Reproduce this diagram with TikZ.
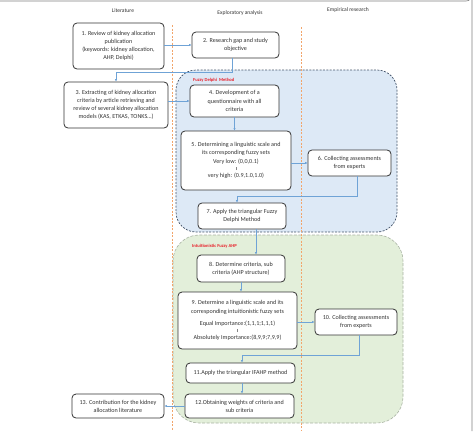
\documentclass[tikz,border=0pt]{standalone}
\usepackage{fontspec}
\setmainfont{Carlito}
\usepackage{tikz}
\usetikzlibrary{arrows.meta,calc}
\definecolor{ink}{HTML}{333333}
\definecolor{rim}{HTML}{7F7F7F}
\definecolor{wire}{HTML}{6FA3D6}
\definecolor{lane}{HTML}{F2A56B}
\definecolor{skyFill}{HTML}{DDE9F6}
\definecolor{skyRim}{HTML}{44546A}
\definecolor{sageFill}{HTML}{E3EFDA}
\definecolor{sageRim}{HTML}{A9B3A3}
\definecolor{alert}{HTML}{E8202A}
\newcommand{\dotbar}{{\color{ink!60}\rule{0.35pt}{3.6pt}}}
\tikzset{>=Latex,
  box/.style={draw=ink,fill=white,line width=0.8pt,rounded corners=4pt,align=center,
    inner sep=1pt,font=\fontsize{6.1}{8.1}\selectfont,text=ink},
  link/.style={draw=wire,line width=0.5pt,-{Latex[length=2.4pt,width=2.2pt]}},
  lanes/.style={draw=lane,line width=0.5pt,dash pattern=on 2pt off 1.5pt},
  skyzone/.style={draw=skyRim,fill=skyFill,line width=0.7pt,dash pattern=on 2pt off 1.4pt,rounded corners=20pt},
  sagezone/.style={draw=sageRim,fill=sageFill,line width=0.6pt,dash pattern=on 3pt off 1.5pt,rounded corners=26pt},
  tag/.style={font=\fontsize{4.6}{5}\selectfont\bfseries,text=alert,inner sep=0pt,anchor=west},
  head/.style={font=\fontsize{5.6}{6}\selectfont,text=ink,inner sep=0pt}}

\begin{document}
\begin{tikzpicture}[x=1pt,y=-1pt]
  \useasboundingbox (0,0) rectangle (473,431);
  \draw[rim,line width=0.6pt] (-2,1) -- (466,1) arc[start angle=90,end angle=0,radius=6] -- (472,431);
  % method zones
  \draw[skyzone] (176,70) rectangle (397,232);
  \draw[sagezone] (173,235) rectangle (403,423);
  \node[tag] (fdm) at (193,80) {Fuzzy Delphi\ \ Method};
  \node[tag] (ifahp) at (192,246) {Intuitionistic Fuzzy AHP};
  % column headings and lanes
  \node[head] (lit) at (123,11) {Literature};
  \node[head] (exp) at (240,13) {Exploratory analysis};
  \node[head] (emp) at (348,10) {Empirical research};
  \draw[lanes] (172,25) -- (172,431);
  \draw[lanes] (301,27) -- (301,431);
  % steps
  \node[box,minimum width=91pt,minimum height=46pt] (s1) at (118.5,46)
    {1. Review of kidney allocation\\publication\\(keywords: kidney allocation,\\AHP, Delphi)};
  \node[box,minimum width=87pt,minimum height=26pt] (s2) at (235.5,45)
    {2. Research gap and study\\objective};
  \node[box,minimum width=104pt,minimum height=46pt] (s3) at (116,105)
    {3. Extracting of kidney allocation\\criteria by article retrieving and\\review of several kidney allocation\\models (KAS, ETKAS, TONKS\dots)};
  \node[box,minimum width=89pt,minimum height=32pt] (s4) at (234.5,101)
    {4. Development of a\\questionnaire with all\\criteria};
  \node[box,minimum width=110pt,minimum height=59pt] (s5) at (236,160.5)
    {5. Determining a linguistic scale and\\its corresponding fuzzy sets\\Very low: (0,0,0.1)\\[-1pt]\dotbar\\[-1pt]very high: (0.9,1.0,1.0)};
  \node[box,minimum width=83pt,minimum height=26pt] (s6) at (349.5,163)
    {6. Collecting assessments\\from experts};
  \node[box,minimum width=88pt,minimum height=26pt] (s7) at (242,216)
    {7. Apply the triangular Fuzzy\\Delphi Method};
  \node[box,minimum width=88pt,minimum height=27pt] (s8) at (241,268.5)
    {8. Determine criteria, sub\\criteria (AHP structure)};
  \node[box,minimum width=119pt,minimum height=57pt] (s9) at (237.5,320.5)
    {9. Determine a linguistic scale and its\\corresponding intuitionistic fuzzy sets\\[4pt]Equal Importance:(1,1,1;1,1,1)\\[-1pt]\dotbar\\[-1pt]Absolutely Importance:(8,9,9;7,9,9)};
  \node[box,minimum width=82pt,minimum height=26pt] (s10) at (356,322)
    {10. Collecting assessments\\from experts};
  \node[box,minimum width=109pt,minimum height=20pt] (s11) at (240.5,373)
    {11.Apply the triangular IFAHP method};
  \node[box,minimum width=109pt,minimum height=24pt] (s12) at (239.5,406)
    {12.Obtaining weights of criteria and\\sub criteria};
  \node[box,minimum width=92pt,minimum height=24pt] (s13) at (118,406)
    {13. Contribution for the kidney\\allocation literature};
  % flow
  \draw[link] (s1.east |- s2.west) -- (s2.west);
  \draw[link] ([xshift=-3pt]s2.south) -- ++(0,14) -| (s3.north);
  \draw[link] (s3.east |- s4.west) -- (s4.west);
  \draw[link] (s4.south) -- (s4.south |- s5.north);
  \draw[link] (s5.east |- s6.west) -- (s6.west);
  \draw[link] ([xshift=8pt]s6.south) -- ++(0,20) -| ([xshift=-5pt]s7.north);
  \draw[link] ([xshift=14pt]s7.south) -- ([xshift=15pt]s8.north);
  \draw[link] (s8.south) -- (s8.south |- s9.north);
  \draw[link] (s9.east |- s10.west) -- (s10.west);
  \draw[link] ([xshift=3pt]s10.south) -- ++(0,20) -| ([xshift=1.5pt]s11.north);
  \draw[link] ([xshift=1.5pt]s11.south) -- ([xshift=2.5pt]s12.north);
  \draw[link] (s12.west) -- (s13.east);
\end{tikzpicture}
\end{document}
